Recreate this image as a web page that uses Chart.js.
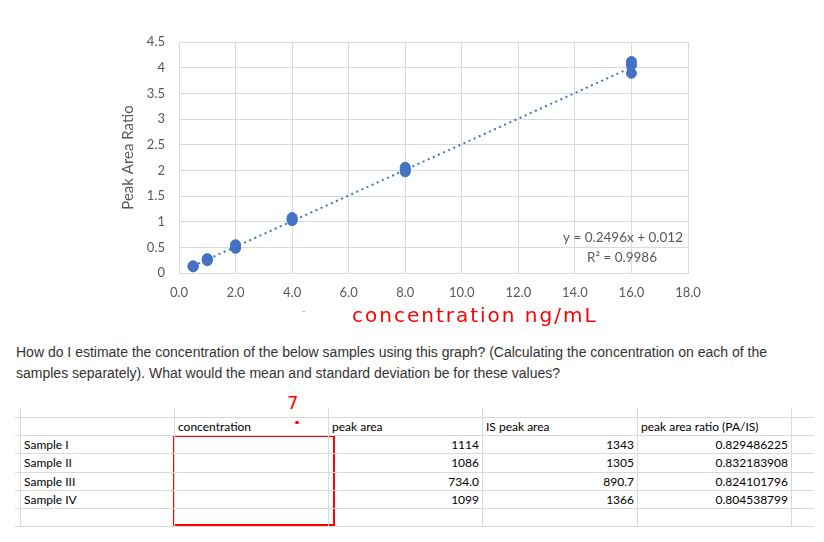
<!DOCTYPE html>
<html>
<head>
<meta charset="utf-8">
<script src="https://cdn.jsdelivr.net/npm/chart.js@4.4.0/dist/chart.umd.min.js"></script>
<style>
  body { margin: 0; background: #fff; width: 824px; height: 542px; position: relative; overflow: hidden; }
  #chartbox { position: absolute; left: 0; top: 0; width: 824px; height: 310px; }
  .hand { position: absolute; color: #f00; font-family: "DejaVu Sans", sans-serif; }
  #question { position: absolute; left: 16px; top: 342px; font-family: "Liberation Sans", Arial, sans-serif;
    font-size: 14px; line-height: 21px; color: #333; white-space: nowrap; }
  #sheet { position: absolute; left: 15px; top: 408px; border-collapse: collapse; table-layout: fixed;
    font-family: Lato, sans-serif; font-size: 12px; color: #000; }
  #sheet td { border-left: 1px solid #d9d9d9; border-bottom: 1px solid #d9d9d9; padding: 0 3px; height: 17.2px;
    white-space: nowrap; overflow: hidden; }
  #sheet td.num { text-align: right; }
  #sheet tr.cut td { height: 9px; }
  #sheet td.first { border-left: none; padding: 0; }
</style>
</head>
<body>
<div id="chartbox"><canvas id="calib"></canvas></div>

<div style="position:absolute;left:302px;top:304px;color:#999;font:10px Lato">-</div>
<div class="hand" style="left:352px;top:303px;font-size:20px;letter-spacing:2px">concentration ng/mL</div>
<div class="hand" style="left:287px;top:392px;font-size:18px">7</div>
<div style="position:absolute;left:295px;top:421px;width:4px;height:3px;background:#f00;border-radius:2px"></div>
<div style="position:absolute;left:173px;top:435px;width:158px;height:87px;border:2px solid #f00"></div>

<div id="question">How do I estimate the concentration of the below samples using this graph? (Calculating the concentration on each of the<br>samples separately). What would the mean and standard deviation be for these values?</div>

<table id="sheet"><tbody id="rows"></tbody></table>

<script>
// standards (x = ng/mL, y = peak area ratio)
var stdConc = [0.5, 0.5, 0.5, 1, 1, 1, 2, 2, 2, 4, 4, 4, 8, 8, 8, 16, 16, 16];
var stdRatio = [0.12, 0.13, 0.14, 0.24, 0.26, 0.28, 0.48, 0.51, 0.55, 1.02, 1.05, 1.08, 1.97, 2.02, 2.06, 3.89, 4.05, 4.12];

// trendline ends
var trendConc = [0.5, 16];
var trendRatio = [0.137, 4.006];

var xTickLabels = ['0.0', '2.0', '4.0', '6.0', '8.0', '10.0', '12.0', '14.0', '16.0', '18.0'];
var yTickLabels = ['0', '0.5', '1', '1.5', '2', '2.5', '3', '3.5', '4', '4.5'];

// sheet
var headers = ['', 'concentration', 'peak area', 'IS peak area', 'peak area ratio (PA/IS)'];
var samples = ['Sample I', 'Sample II', 'Sample III', 'Sample IV'];
var peakArea = ['1114', '1086', '734.0', '1099'];
var isPeakArea = ['1343', '1305', '890.7', '1366'];
var peakRatio = ['0.829486225', '0.832183908', '0.824101796', '0.804538799'];

var blue = '#4472C4';
var gray = '#595959';

var stdPoints = stdConc.map(function (c, i) { return { x: c, y: stdRatio[i] }; });
var trendPoints = trendConc.map(function (c, i) { return { x: c, y: trendRatio[i] }; });

var equationText = {
  id: 'equationText',
  afterDraw: function (chart) {
    var ctx = chart.ctx;
    ctx.save();
    ctx.fillStyle = gray;
    ctx.font = '13.5px Lato';
    ctx.textAlign = 'right';
    ctx.textBaseline = 'middle';
    ctx.fillText('y = 0.2496x + 0.012', 683, 238);
    ctx.fillText('R\u00b2 = 0.9986', 657, 258);
    ctx.restore();
  }
};

new Chart(document.getElementById('calib'), {
  type: 'scatter',
  data: {
    datasets: [{
      data: stdPoints,
      backgroundColor: blue,
      borderColor: blue,
      pointRadius: 5,
      pointHoverRadius: 5
    }, {
      type: 'line',
      data: trendPoints,
      borderColor: blue,
      borderWidth: 2,
      borderDash: [2, 3.6],
      pointRadius: 0,
      fill: false
    }]
  },
  options: {
    responsive: true,
    maintainAspectRatio: false,
    animation: false,
    layout: { padding: { left: 110, right: 136, top: 42, bottom: 0 } },
    plugins: { legend: { display: false }, tooltip: { enabled: false } },
    scales: {
      x: {
        type: 'linear',
        min: 0, max: 18,
        afterFit: function (s) { s.height = 37; },
        ticks: {
          stepSize: 2, color: gray, padding: 12,
          font: { family: 'Lato', size: 13 },
          callback: function (v, i) { return xTickLabels[i]; }
        },
        grid: { color: '#d9d9d9', drawTicks: false },
        border: { color: '#d9d9d9' }
      },
      y: {
        min: 0, max: 4.5,
        afterFit: function (s) { s.width = 69; },
        ticks: {
          stepSize: 0.5, color: gray, padding: 14,
          font: { family: 'Lato', size: 13 },
          callback: function (v, i) { return yTickLabels[i]; }
        },
        grid: { color: '#d9d9d9', drawTicks: false },
        border: { color: '#d9d9d9' },
        title: {
          display: true, text: 'Peak Area Ratio', color: gray,
          font: { family: 'Lato', size: 15 }, padding: { top: 9, bottom: 0 }
        }
      }
    }
  },
  plugins: [equationText]
});

// build the sheet rows
var widths = [5, 154, 154, 154, 155, 154, 23];
var tbody = document.getElementById('rows');
function addRow(cells, cls, numCols) {
  var tr = document.createElement('tr');
  if (cls) tr.className = cls;
  for (var i = 0; i < 7; i++) {
    var td = document.createElement('td');
    td.style.width = (widths[i] - (i === 0 ? 0 : 7)) + 'px';
    if (i === 0) td.className = 'first';
    var t = cells[i - 1];
    if (t !== undefined) td.textContent = t;
    if (numCols && numCols.indexOf(i) >= 0) td.className = 'num';
    tr.appendChild(td);
  }
  tbody.appendChild(tr);
}
addRow([], 'cut');
addRow(headers);
for (var r = 0; r < samples.length; r++) {
  addRow([samples[r], '', peakArea[r], isPeakArea[r], peakRatio[r]], null, [3, 4, 5]);
}
addRow([]);
</script>
</body>
</html>
